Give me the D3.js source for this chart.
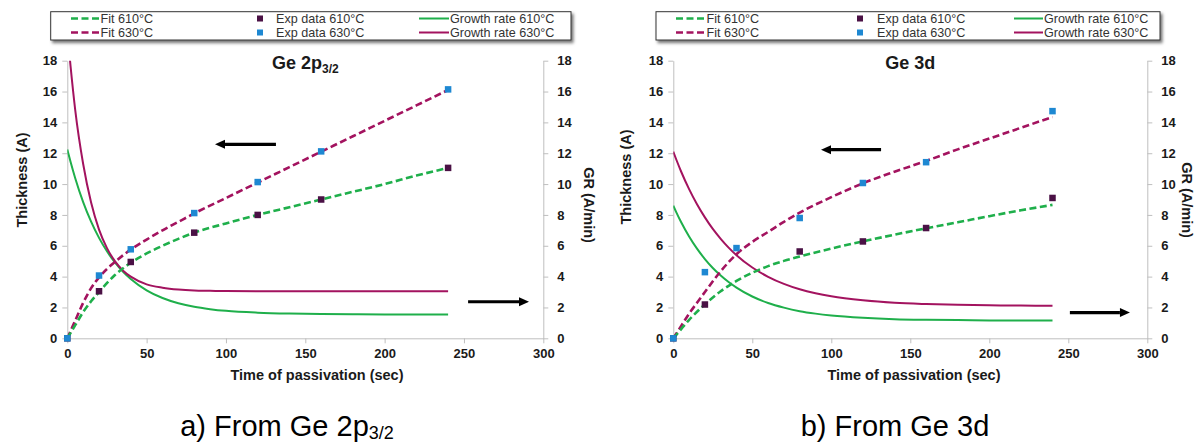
<!DOCTYPE html>
<html><head><meta charset="utf-8">
<script src="https://cdn.jsdelivr.net/npm/d3@7"></script>
<style>body{margin:0;background:#fff}svg{display:block;font-family:"Liberation Sans",Arial,sans-serif}</style>
</head><body><svg id="c" width="1197" height="445"></svg>
<script>
// ---------- data ----------
const timeTicks = [0, 50, 100, 150, 200, 250, 300];
const valueTicks = [0, 2, 4, 6, 8, 10, 12, 14, 16, 18];

const expTimeA = [0, 20, 40, 80, 120, 160, 240];
const expA610 = [0, 3.05, 4.95, 6.85, 8.0, 9.0, 11.05];
const expA630 = [0, 4.07, 5.77, 8.12, 10.13, 12.12, 16.14];

const expTimeB610 = [0, 20, 80, 120, 160, 240];
const expB610 = [0, 2.19, 5.63, 6.28, 7.15, 9.1];
const expTimeB630 = [0, 20, 40, 80, 120, 160, 240];
const expB630 = [0, 4.29, 5.85, 7.8, 10.07, 11.42, 14.73];

const fitTime = [0, 5, 10, 15, 20, 30, 40, 50, 60, 70, 80, 100, 120, 140, 160, 180, 200, 220, 240];
const fitA610 = [0, 0.85, 1.7, 2.4, 3.0, 4.1, 4.9, 5.5, 6.0, 6.45, 6.85, 7.45, 8.0, 8.5, 9.0, 9.5, 10.0, 10.55, 11.05];
const fitA630 = [0, 1.15, 2.3, 3.25, 3.95, 4.95, 5.75, 6.4, 7.0, 7.55, 8.1, 9.1, 10.1, 11.1, 12.1, 13.1, 14.1, 15.1, 16.1];
const fitB610 = [0, 0.6, 1.2, 1.72, 2.2, 3.05, 3.72, 4.25, 4.68, 5.02, 5.3, 5.82, 6.28, 6.72, 7.13, 7.52, 7.92, 8.3, 8.65];
const fitB630 = [0, 0.8, 1.6, 2.3, 3.0, 4.35, 5.45, 6.25, 6.9, 7.55, 8.15, 9.15, 10.05, 10.8, 11.5, 12.25, 12.95, 13.65, 14.35];

const grTime = [0, 2, 5, 10, 15, 20, 25, 30, 35, 40, 50, 60, 70, 80, 90, 100, 120, 140, 160, 180, 200, 220, 240];
const grA610 = [12.25, 11.46, 10.38, 8.83, 7.56, 6.51, 5.64, 4.92, 4.33, 3.85, 3.11, 2.61, 2.27, 2.04, 1.89, 1.78, 1.66, 1.6, 1.57, 1.56, 1.55, 1.55, 1.55];
const grA630 = [19.9, 17.7, 14.8, 11.3, 8.8, 7.05, 5.85, 5.0, 4.4, 4.0, 3.5, 3.28, 3.16, 3.1, 3.08, 3.06, 3.05, 3.05, 3.05, 3.05, 3.05, 3.05, 3.05];
const grB610 = [8.6, 8.15, 7.52, 6.6, 5.81, 5.14, 4.56, 4.07, 3.65, 3.29, 2.71, 2.29, 1.99, 1.76, 1.6, 1.48, 1.33, 1.24, 1.2, 1.18, 1.16, 1.15, 1.15];
const grB630 = [12.1, 11.56, 10.8, 9.67, 8.69, 7.84, 7.09, 6.45, 5.88, 5.39, 4.59, 3.99, 3.53, 3.18, 2.92, 2.72, 2.46, 2.3, 2.22, 2.17, 2.14, 2.12, 2.11];

const legendLabels = ["Fit 610°C", "Fit 630°C", "Exp data 610°C", "Exp data 630°C", "Growth rate 610°C", "Growth rate 630°C"];
const axisTitles = ["Time of passivation (sec)", "Thickness (A)", "GR (A/min)"];
// arrows: [tailTime, tipTime, value]
const arrowsA = [[131.5, 93.1, 12.58], [252.6, 291, 2.37]];
const arrowsB = [[131.5, 93.5, 12.23], [251, 289, 1.67]];

// ---------- style ----------
const C = {green: "#1FAF4B", magenta: "#A3135F", purple: "#4A1145", blue: "#1E88D2", axis: "#BFBFBF", text: "#1a1a1a"};

const svg = d3.select("#c");
const defs = svg.append("defs");
const f = defs.append("filter").attr("id", "sh").attr("x", "-5%").attr("y", "-20%").attr("width", "115%").attr("height", "160%");
f.append("feDropShadow").attr("dx", 2).attr("dy", 2.5).attr("stdDeviation", 1.4).attr("flood-color", "#000").attr("flood-opacity", 0.55);

function zip(t, v) { return t.map((d, i) => [d, v[i]]); }

function panel(p) {
  const x = d3.scaleLinear().domain([0, 300]).range([p.x0, p.x1]);
  const y = d3.scaleLinear().domain([0, 18]).range([338.3, 60.7]);
  const g = svg.append("g");

  const styleAxis = sel => {
    sel.select(".domain").attr("stroke", C.axis).attr("stroke-width", 1);
    sel.selectAll(".tick line").attr("stroke", C.axis);
    sel.selectAll(".tick text").attr("fill", C.text).attr("font-size", 13).attr("font-weight", "bold")
      .attr("font-family", '"Liberation Sans",Arial,sans-serif');
  };
  g.append("g").attr("transform", `translate(0,${y(0)})`)
    .call(d3.axisBottom(x).tickValues(timeTicks).tickSize(5).tickPadding(5).tickSizeOuter(0)).call(styleAxis);
  g.append("g").attr("transform", `translate(${x(0)},0)`)
    .call(d3.axisLeft(y).tickValues(valueTicks).tickSize(5).tickPadding(5).tickSizeOuter(0)).call(styleAxis);
  g.append("g").attr("transform", `translate(${x(300)},0)`)
    .call(d3.axisRight(y).tickValues(valueTicks).tickSize(5).tickPadding(9).tickSizeOuter(0)).call(styleAxis);

  const cid = "clip" + p.id;
  defs.append("clipPath").attr("id", cid).append("rect")
    .attr("x", x(0)).attr("y", y(18)).attr("width", x(300) - x(0)).attr("height", y(0) - y(18));
  const plot = g.append("g").attr("clip-path", `url(#${cid})`);
  const line = d3.line().x(d => x(d[0])).y(d => y(d[1])).curve(d3.curveMonotoneX);

  plot.append("path").attr("d", line(zip(grTime, p.gr610))).attr("fill", "none").attr("stroke", C.green).attr("stroke-width", 2);
  plot.append("path").attr("d", line(zip(grTime, p.gr630))).attr("fill", "none").attr("stroke", C.magenta).attr("stroke-width", 2);
  plot.append("path").attr("d", line(zip(fitTime, p.fit630))).attr("fill", "none").attr("stroke", C.magenta).attr("stroke-width", 2.6).attr("stroke-dasharray", "7,3.5");
  plot.append("path").attr("d", line(zip(fitTime, p.fit610))).attr("fill", "none").attr("stroke", C.green).attr("stroke-width", 2.6).attr("stroke-dasharray", "7,3.5");

  const ms = 6.5;
  g.selectAll(null).data(zip(p.expT610, p.exp610)).enter().append("rect")
    .attr("x", d => x(d[0]) - ms / 2).attr("y", d => y(d[1]) - ms / 2).attr("width", ms).attr("height", ms).attr("fill", C.purple);
  g.selectAll(null).data(zip(p.expT630, p.exp630)).enter().append("rect")
    .attr("x", d => x(d[0]) - ms / 2).attr("y", d => y(d[1]) - ms / 2).attr("width", ms).attr("height", ms).attr("fill", C.blue);

  const t = g.append("text").attr("x", (x(0) + x(300)) / 2).attr("y", 69).attr("text-anchor", "middle")
    .attr("font-weight", "bold").attr("font-size", 18).attr("fill", C.text);
  t.append("tspan").text(p.title);
  if (p.titleSub) t.append("tspan").attr("font-size", 12).attr("dy", 4).text(p.titleSub);

  g.append("text").attr("x", p.xTitleX).attr("y", 380).attr("text-anchor", "middle").attr("font-weight", "bold")
    .attr("font-size", 14.5).attr("fill", C.text).text(axisTitles[0]);
  g.append("text").attr("transform", `translate(${p.yTitleX},${p.yTitleY}) rotate(-90)`).attr("text-anchor", "middle")
    .attr("dominant-baseline", "central").attr("font-weight", "bold").attr("font-size", 14.5).attr("fill", C.text).text(axisTitles[1]);
  g.append("text").attr("transform", `translate(${p.grTitleX},${p.grTitleY}) rotate(90)`).attr("text-anchor", "middle")
    .attr("dominant-baseline", "central").attr("font-weight", "bold").attr("font-size", 14.5).attr("fill", C.text).text(axisTitles[2]);

  p.arrows.forEach(a => {
    const xt = x(a[0]), xp = x(a[1]), yy = y(a[2]);
    const s = Math.sign(xp - xt), head = 10;
    g.append("line").attr("x1", xt).attr("x2", xp - s * head).attr("y1", yy).attr("y2", yy).attr("stroke", "#000").attr("stroke-width", 3.2);
    g.append("path").attr("d", `M${xp},${yy}L${xp - s * head},${yy - 4.5}L${xp - s * head},${yy + 4.5}Z`).attr("fill", "#000");
  });

  const L = p.legend;
  g.append("rect").attr("x", L.x0).attr("y", 11.7).attr("width", L.x1 - L.x0).attr("height", 28.3)
    .attr("fill", "#fff").attr("stroke", "#333").attr("stroke-width", 1).attr("filter", "url(#sh)");
  const rows = [18.5, 32.5];
  const lg = g.append("g").attr("font-size", 12.6).attr("fill", "#333");
  [C.green, C.magenta].forEach((c, i) => {
    lg.append("line").attr("x1", L.c1[0]).attr("x2", L.c1[1]).attr("y1", rows[i]).attr("y2", rows[i])
      .attr("stroke", c).attr("stroke-width", 2.6).attr("stroke-dasharray", "7,3.5");
    lg.append("text").attr("x", L.c1[1] + 1.5).attr("y", rows[i]).attr("dominant-baseline", "central").text(legendLabels[i]);
  });
  [C.purple, C.blue].forEach((c, i) => {
    lg.append("rect").attr("x", L.c2[0] - 3).attr("y", rows[i] - 3).attr("width", 6).attr("height", 6).attr("fill", c);
    lg.append("text").attr("x", L.c2[1]).attr("y", rows[i]).attr("dominant-baseline", "central").text(legendLabels[2 + i]);
  });
  [C.green, C.magenta].forEach((c, i) => {
    lg.append("line").attr("x1", L.c3[0]).attr("x2", L.c3[1]).attr("y1", rows[i]).attr("y2", rows[i])
      .attr("stroke", c).attr("stroke-width", 2);
    lg.append("text").attr("x", L.c3[1] + 1).attr("y", rows[i]).attr("dominant-baseline", "central").text(legendLabels[4 + i]);
  });

  const cap = svg.append("text").attr("x", p.capX).attr("y", 436).attr("text-anchor", "middle").attr("font-size", 29).attr("fill", "#000");
  cap.append("tspan").text(p.caption);
  if (p.capSub) cap.append("tspan").attr("font-size", 18).attr("dy", 3).text(p.capSub);
}

panel({id: "a", x0: 67.3, x1: 543.3, title: "Ge 2p", titleSub: "3/2",
  exp610: expA610, expT610: expTimeA, exp630: expA630, expT630: expTimeA,
  fit610: fitA610, fit630: fitA630, gr610: grA610, gr630: grA630, arrows: arrowsA,
  xTitleX: 317, yTitleX: 22, yTitleY: 180, grTitleX: 588.5, grTitleY: 205,
  legend: {x0: 50.7, x1: 571, c1: [71, 99], c2: [260, 276], c3: [419, 449]},
  caption: "a) From Ge 2p", capSub: "3/2", capX: 287});

panel({id: "b", x0: 673.3, x1: 1147.3, title: "Ge 3d", titleSub: null,
  exp610: expB610, expT610: expTimeB610, exp630: expB630, expT630: expTimeB630,
  fit610: fitB610, fit630: fitB630, gr610: grB610, gr630: grB630, arrows: arrowsB,
  xTitleX: 914, yTitleX: 626, yTitleY: 177, grTitleX: 1187, grTitleY: 200,
  legend: {x0: 656, x1: 1160, c1: [676, 705], c2: [860, 877], c3: [1014, 1043]},
  caption: "b) From Ge 3d", capSub: null, capX: 895});
</script></body></html>
